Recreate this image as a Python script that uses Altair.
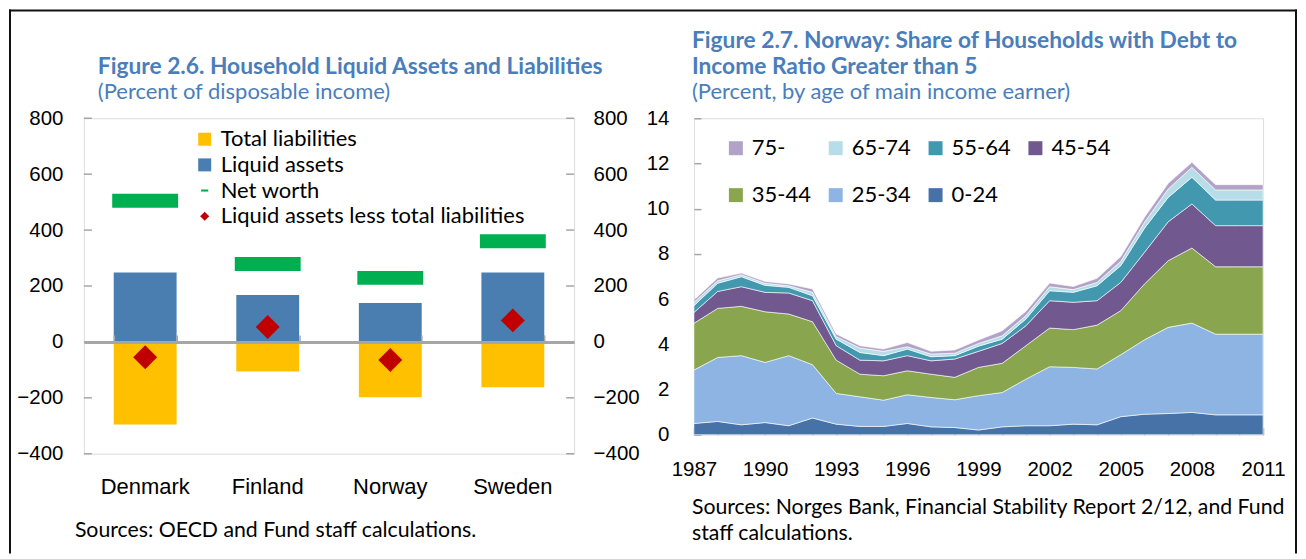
import altair as alt
import pandas as pd

FONT = "Lato"
TITLE_BLUE = "#4A7EBB"
AX_GRAY = "#A6A6A6"

# ---------------- Figure 2.6 data ----------------
countries = ["Denmark", "Finland", "Norway", "Sweden"]
total_liabilities = [-295, -106, -198, -162]
liquid_assets = [248, 168, 139, 248]
net_worth = [505, 279, 229, 360]
assets_less_liabilities = [-55, 53, -65, 77]
left_series = ["Total liabilities", "Liquid assets", "Net worth",
               "Liquid assets less total liabilities"]
left_colors = ["#FFC000", "#4A7EB0", "#00B050", "#C00000"]
left_ticks = [-400, -200, 0, 200, 400, 600, 800]

title_left = "Figure 2.6. Household Liquid Assets and Liabilities"
subtitle_left = "(Percent of disposable income)"
source_left = "Sources: OECD and Fund staff calculations."

# ---------------- Figure 2.7 data ----------------
years = [1987, 1988, 1989, 1990, 1991, 1992, 1993, 1994, 1995, 1996, 1997, 1998,
         1999, 2000, 2001, 2002, 2003, 2004, 2005, 2006, 2007, 2008, 2009, 2010, 2011]
age_0_24 = [0.50, 0.59, 0.44, 0.54, 0.40, 0.74, 0.47, 0.37, 0.37, 0.50, 0.35, 0.32,
            0.21, 0.35, 0.40, 0.40, 0.47, 0.44, 0.80, 0.91, 0.94, 0.99, 0.88, 0.88, 0.88]
age_25_34 = [2.36, 2.83, 3.06, 2.66, 3.10, 2.36, 1.36, 1.31, 1.16, 1.27, 1.30, 1.23,
             1.52, 1.52, 2.06, 2.61, 2.51, 2.47, 2.74, 3.29, 3.81, 3.95, 3.57, 3.57, 3.57]
age_35_44 = [2.07, 2.17, 2.18, 2.24, 1.84, 1.90, 1.47, 1.00, 1.08, 1.06, 1.03, 0.99,
             1.25, 1.29, 1.48, 1.71, 1.67, 1.94, 1.95, 2.47, 2.95, 3.32, 2.98, 2.98, 2.98]
age_45_54 = [0.48, 0.75, 0.87, 0.86, 0.93, 0.93, 0.64, 0.62, 0.66, 0.67, 0.59, 0.81,
             0.71, 0.88, 0.88, 1.21, 1.21, 1.08, 1.25, 1.40, 1.72, 1.95, 1.82, 1.82, 1.82]
age_55_64 = [0.30, 0.36, 0.44, 0.31, 0.25, 0.22, 0.29, 0.34, 0.23, 0.29, 0.18, 0.15,
             0.23, 0.19, 0.30, 0.44, 0.44, 0.66, 0.74, 1.07, 1.08, 1.18, 1.13, 1.13, 1.13]
age_65_74 = [0.15, 0.11, 0.09, 0.09, 0.07, 0.15, 0.11, 0.20, 0.19, 0.10, 0.12, 0.11,
             0.12, 0.15, 0.15, 0.18, 0.12, 0.15, 0.19, 0.26, 0.37, 0.44, 0.45, 0.45, 0.45]
age_75 = [0.10, 0.12, 0.07, 0.08, 0.08, 0.15, 0.12, 0.10, 0.10, 0.19, 0.12, 0.14,
          0.15, 0.22, 0.19, 0.16, 0.14, 0.18, 0.21, 0.22, 0.25, 0.22, 0.23, 0.23, 0.23]
age_groups = ["75-", "65-74", "55-64", "45-54", "35-44", "25-34", "0-24"]
age_colors = ["#B3A2C7", "#B7DEE8", "#4198AF", "#71588F", "#89A54E", "#8EB4E3", "#4672A8"]
year_labels = [1987, 1990, 1993, 1996, 1999, 2002, 2005, 2008, 2011]
right_ticks = [0, 2, 4, 6, 8, 10, 12, 14]

title_right = ["Figure 2.7. Norway: Share of Households with Debt to",
               "Income Ratio  Greater than 5"]
subtitle_right = "(Percent, by age of main income earner)"
source_right = ["Sources: Norges Bank, Financial Stability Report 2/12, and Fund",
                "staff calculations."]

W1, H1 = 491, 336
W2, H2 = 570, 317
TITLE_SIZE = 22.8
SUB_SIZE = 22
SRC_SIZE = 21.3
LEG_SIZE = 22
NUM_SIZE = 20.5
CAT_SIZE = 22


def text_layer(txt, x, y, size, bold=False, color="black", baseline="alphabetic"):
    return alt.Chart(pd.DataFrame({"t": [txt]})).mark_text(
        align="left", baseline=baseline, font=FONT, fontSize=size,
        fontWeight="bold" if bold else "normal", color=color
    ).encode(text="t:N", x=alt.value(x), y=alt.value(y))


def frame_piece(x, x2, y, y2):
    return alt.Chart(pd.DataFrame({"a": [0]})).mark_rect(color="#111111").encode(
        x=alt.value(x), x2=alt.value(x2), y=alt.value(y), y2=alt.value(y2))


# ---------------- left chart ----------------
df_bars = pd.DataFrame({
    "country": countries * 2,
    "series": [left_series[0]] * 4 + [left_series[1]] * 4,
    "value": total_liabilities + liquid_assets,
})
df_nw = pd.DataFrame({"country": countries, "series": left_series[2], "value": net_worth})
df_pt = pd.DataFrame({"country": countries, "series": left_series[3],
                      "value": assets_less_liabilities})
df_lt = pd.DataFrame({"v": left_ticks})

xs1 = alt.Scale(domain=countries, paddingInner=0.487, paddingOuter=0.2435)
ys1 = alt.Scale(domain=[-400, 800], nice=False)

bars = alt.Chart(df_bars).mark_bar().encode(
    x=alt.X("country:N", scale=xs1, sort=countries, title=None,
            axis=alt.Axis(orient="bottom", domain=False, ticks=False, labelAngle=0,
                          labelPadding=23, labelFontSize=CAT_SIZE)),
    y=alt.Y("value:Q", scale=ys1, stack=None, title=None,
            axis=alt.Axis(orient="left", values=left_ticks, domain=False, ticks=False,
                          grid=False, labelPadding=21, labelFontSize=NUM_SIZE)),
    fill=alt.Fill("series:N", scale=alt.Scale(domain=left_series[:2], range=left_colors[:2]),
                  legend=None),
)

nw = alt.Chart(df_nw).mark_tick(color=left_colors[2], size=66, thickness=14, opacity=1).encode(
    x=alt.X("country:N", scale=xs1, sort=countries, title=None,
            axis=alt.Axis(orient="top", offset=-224, labels=False, domainColor=AX_GRAY,
                          domainWidth=3, tickColor=AX_GRAY, tickWidth=1.5, tickSize=7,
                          tickBand="extent", grid=False, zindex=1)),
    y=alt.Y("value:Q", scale=ys1, title=None,
            axis=alt.Axis(orient="right", values=left_ticks, domain=False, ticks=False,
                          grid=False, labelPadding=19, labelFontSize=NUM_SIZE)),
)

SQ = "M-1,-1H1V1H-1Z"
DASH = "M-0.55,-0.16H0.55V0.16H-0.55Z"
DIAM = "M0,-0.7L0.7,0L0,0.7L-0.7,0Z"
leg1 = dict(title=None, orient="none", legendX=110, legendY=10, symbolSize=169,
            labelFontSize=LEG_SIZE, labelFont=FONT, labelColor="black", labelLimit=0,
            rowPadding=3.7, labelOffset=5, padding=0, symbolStrokeWidth=0)

pts = alt.Chart(df_pt).mark_point(filled=True, size=1176, opacity=1, strokeWidth=0).encode(
    x=alt.X("country:N", scale=xs1, sort=countries, axis=None),
    y=alt.Y("value:Q", scale=ys1, axis=None),
    color=alt.Color("series:N", scale=alt.Scale(domain=left_series, range=left_colors),
                    legend=alt.Legend(**leg1)),
    shape=alt.Shape("series:N", scale=alt.Scale(domain=left_series,
                                                range=[SQ, SQ, DASH, DIAM]),
                    legend=alt.Legend(**leg1)),
)

ltick_l = alt.Chart(df_lt).mark_tick(color=AX_GRAY, size=8, thickness=1.5, opacity=1).encode(
    y=alt.Y("v:Q", scale=ys1, axis=None), x=alt.value(4))
ltick_r = alt.Chart(df_lt).mark_tick(color=AX_GRAY, size=8, thickness=1.5, opacity=1).encode(
    y=alt.Y("v:Q", scale=ys1, axis=None), x=alt.value(W1 - 4))

left = alt.layer(
    bars, ltick_l, ltick_r, nw, pts,
    text_layer(title_left, 14, -44, TITLE_SIZE, bold=True, color=TITLE_BLUE),
    text_layer(subtitle_left, 14, -19, SUB_SIZE, color=TITLE_BLUE),
    text_layer(source_left, -9, 413, SRC_SIZE, baseline="middle"),
    # outer frame of the whole figure (top, left, right edges)
    frame_piece(-75, 1215, -109, -107),
    frame_piece(-75, -73, -109, 436),
    frame_piece(1213, 1215, -109, 436),
).properties(width=W1, height=H1)

# ---------------- right chart ----------------
rows = []
cols = {"0-24": age_0_24, "25-34": age_25_34, "35-44": age_35_44, "45-54": age_45_54,
        "55-64": age_55_64, "65-74": age_65_74, "75-": age_75}
stack_order = ["0-24", "25-34", "35-44", "45-54", "55-64", "65-74", "75-"]
for k, g in enumerate(stack_order):
    for yr, v in zip(years, cols[g]):
        rows.append({"year": yr, "group": g, "value": v, "ord": k})
df_area = pd.DataFrame(rows)

xs2 = alt.Scale(domain=[1987, 2011], nice=False, zero=False)
ys2 = alt.Scale(domain=[0, 14], nice=False)

area = alt.Chart(df_area).mark_area(stroke="white", strokeWidth=0.6, opacity=1).encode(
    x=alt.X("year:Q", scale=xs2, title=None,
            axis=alt.Axis(orient="bottom", values=year_labels, format="d", domain=False,
                          ticks=False, grid=False, labelPadding=25, labelFlush=False,
                          labelFontSize=NUM_SIZE)),
    y=alt.Y("value:Q", stack="zero", scale=ys2, title=None,
            axis=alt.Axis(orient="left", values=right_ticks, domain=False, ticks=False,
                          grid=False, labelPadding=25, labelFontSize=NUM_SIZE)),
    color=alt.Color("group:N", scale=alt.Scale(domain=age_groups, range=age_colors),
                    legend=alt.Legend(title=None, orient="none", legendX=31, legendY=19,
                                      direction="horizontal", columns=4,
                                      symbolType="square", symbolSize=196,
                                      labelFontSize=LEG_SIZE, labelFont=FONT,
                                      labelColor="black", columnPadding=13, rowPadding=25,
                                      labelOffset=5, padding=0, symbolStrokeWidth=0)),
    order=alt.Order("ord:Q", sort="ascending"),
)

tick_axes = alt.Chart(df_area).mark_point(opacity=0).encode(
    x=alt.X("year:Q", scale=xs2, title=None,
            axis=alt.Axis(orient="top", offset=-H2, values=years, labels=False, domain=False,
                          grid=False, tickColor=AX_GRAY, tickWidth=1.5, tickSize=7)),
    y=alt.Y("value:Q", scale=ys2, title=None,
            axis=alt.Axis(orient="right", offset=-W2, values=right_ticks, labels=False,
                          domain=False, grid=False, tickColor=AX_GRAY, tickWidth=1.5,
                          tickSize=7)),
)

right = alt.layer(
    area, tick_axes,
    text_layer(title_right[0], -2, -70, TITLE_SIZE, bold=True, color=TITLE_BLUE),
    text_layer(title_right[1], -2, -44, TITLE_SIZE, bold=True, color=TITLE_BLUE),
    text_layer(subtitle_right, -2, -19, SUB_SIZE, color=TITLE_BLUE),
    text_layer(source_right[0], -2, 390, SRC_SIZE, baseline="middle"),
    text_layer(source_right[1], -2, 416, SRC_SIZE, baseline="middle"),
).properties(width=W2, height=H2)

chart = alt.hconcat(left, right, spacing=120, bounds="flush").resolve_scale(
    color="independent", shape="independent", fill="independent",
    x="independent", y="independent"
).resolve_legend(color="independent", shape="independent").properties(
    padding=0
).configure_view(stroke="#B4B4B4", strokeWidth=2).configure_axis(
    labelFont=FONT, labelColor="black"
).configure(background="white")

chart.save("out.html", embed_options={"renderer": "svg", "actions": False})
